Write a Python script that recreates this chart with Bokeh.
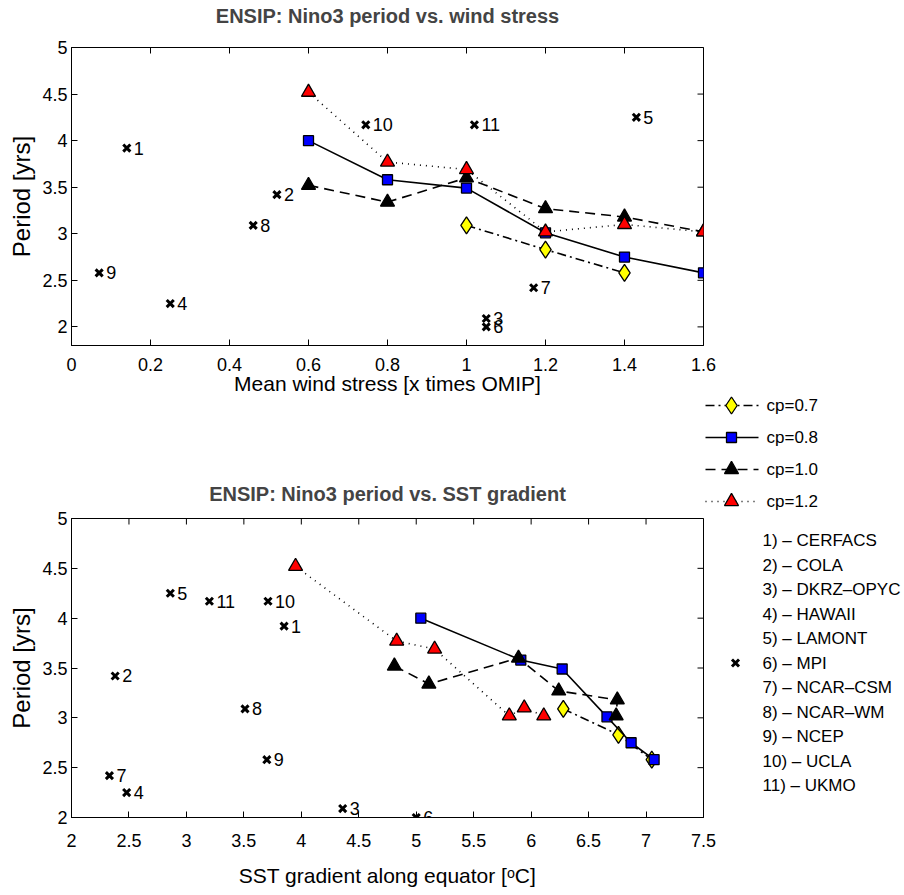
import math
from bokeh.plotting import figure
from bokeh.models import Range1d, FixedTicker
from bokeh.layouts import row, column
from bokeh.embed import file_html
from bokeh.resources import INLINE
from bokeh.core.properties import value

FONT = "Liberation Sans"

# ---------------- data ----------------
wind_levels = [0.6, 0.8, 1.0, 1.2, 1.4, 1.6]

cp07_wind = [1.0, 1.2, 1.4]
cp07_period = [3.09, 2.83, 2.58]
cp07_sst = [6.28, 6.76, 7.05]

cp08_period = [4.00, 3.58, 3.49, 3.01, 2.75, 2.58]
cp08_sst = [5.04, 5.91, 6.27, 6.66, 6.87, 7.07]

cp10_period = [3.52, 3.34, 3.60, 3.27, 3.18, 3.02]
cp10_sst = [4.81, 5.11, 5.89, 6.24, 6.75, 6.74]

cp12_period = [4.52, 3.77, 3.69, 3.02, 3.10, 3.02]
cp12_sst = [3.95, 4.83, 5.16, 5.81, 5.94, 6.11]

model_ids = ["1", "2", "3", "4", "5", "6", "7", "8", "9", "10", "11"]
model_names = ["CERFACS", "COLA", "DKRZ\u2013OPYC", "HAWAII", "LAMONT", "MPI",
               "NCAR\u2013CSM", "NCAR\u2013WM", "NCEP", "UCLA", "UKMO"]
model_period = [3.92, 3.42, 2.09, 2.25, 4.25, 2.00, 2.42, 3.09, 2.58, 4.17, 4.17]
model_wind = [0.14, 0.52, 1.05, 0.25, 1.43, 1.05, 1.17, 0.46, 0.07, 0.745, 1.02]
model_sst = [3.85, 2.38, 4.36, 2.48, 2.86, 5.00, 2.33, 3.51, 3.70, 3.71, 3.20]

legend_labels = ["cp=0.7", "cp=0.8", "cp=1.0", "cp=1.2"]

top_xticks = [0, 0.2, 0.4, 0.6, 0.8, 1.0, 1.2, 1.4, 1.6]
top_xlabels = ["0", "0.2", "0.4", "0.6", "0.8", "1", "1.2", "1.4", "1.6"]
bot_xticks = [2, 2.5, 3, 3.5, 4, 4.5, 5, 5.5, 6, 6.5, 7, 7.5]
bot_xlabels = ["2", "2.5", "3", "3.5", "4", "4.5", "5", "5.5", "6", "6.5", "7", "7.5"]
yticks = [2, 2.5, 3, 3.5, 4, 4.5, 5]
ylabels = ["2", "2.5", "3", "3.5", "4", "4.5", "5"]

# series styles: (fill, marker, size, dash)
styles = [
    ("yellow", "diamond", 17, "9 4 2 4"),
    ("blue", "square", 10, "solid"),
    ("black", "triangle", 14, "10 6"),
    ("red", "triangle", 14, "1 5"),
]


def style_axes(p, xticks, xlabels, xlabel, tick_standoff, label_standoff, title_standoff):
    p.xgrid.visible = False
    p.ygrid.visible = False
    p.outline_line_color = "black"
    p.outline_line_width = 1
    p.title.align = "center"
    p.title.text_font = FONT
    p.title.text_font_size = "20px"
    p.title.text_font_style = "bold"
    p.title.standoff = title_standoff
    p.xaxis.ticker = FixedTicker(ticks=xticks)
    p.xaxis.major_label_overrides = dict(zip(xticks, xlabels))
    p.yaxis.ticker = FixedTicker(ticks=yticks)
    p.yaxis.major_label_overrides = dict(zip(yticks, ylabels))
    p.xaxis.axis_label = xlabel
    p.yaxis.axis_label = "Period [yrs]"
    for ax in (p.xaxis[0], p.yaxis[0]):
        ax.major_tick_in = 6
        ax.major_tick_out = 0
        ax.minor_tick_line_color = None
        ax.axis_line_color = "black"
        ax.major_label_text_font = FONT
        ax.major_label_text_font_size = "18px"
        ax.major_label_text_color = "black"
        ax.axis_label_text_font = FONT
        ax.axis_label_text_font_style = "normal"
        ax.axis_label_text_color = "black"
    p.xaxis.major_label_standoff = tick_standoff
    p.yaxis.major_label_standoff = 4
    p.xaxis.axis_label_text_font_size = "21px"
    p.yaxis.axis_label_text_font_size = "24px"
    p.xaxis.axis_label_standoff = label_standoff
    p.yaxis.axis_label_standoff = 4
    # inward box ticks on the top and right edges (half of each dash is clipped by the frame)
    xr, yr = p.x_range, p.y_range
    p.scatter(xticks, [yr.end] * len(xticks), marker="dash", angle=math.pi / 2, size=12,
              line_color="black", line_width=1)
    p.scatter([xr.end] * len(yticks), yticks, marker="dash", size=12,
              line_color="black", line_width=1)


def add_models(p, xs):
    p.scatter(xs, model_period, marker="x", size=10, line_color="black", line_width=3)
    p.text(xs, model_period, text=model_ids, x_offset=7, text_baseline="middle",
           text_align="left", text_font=value(FONT), text_font_size="18px", text_color="black")


def add_series(p, xs, ys, st):
    fill, marker, size, dash = st
    p.line(xs, ys, line_color="black", line_width=1.6, line_dash=dash)
    p.scatter(xs, ys, marker=marker, size=size, fill_color=fill, line_color="black", line_width=1.3)


# ---------------- top figure (page px: x 0-716, y -24..405; frame 71-703 x 47-345) ----------------
top = figure(width=716, height=429, x_range=Range1d(0, 1.6), y_range=Range1d(1.8, 5),
             output_backend="svg", toolbar_location=None, margin=(-24, 0, 0, 0),
             min_border_left=71, min_border_right=13, min_border_top=71, min_border_bottom=60,
             title="ENSIP: Nino3 period vs. wind stress")
style_axes(top, top_xticks, top_xlabels, "Mean wind stress [x times OMIP]", 12, -2, 41)
add_models(top, model_wind)
add_series(top, cp07_wind, cp07_period, styles[0])
add_series(top, wind_levels, cp08_period, styles[1])
add_series(top, wind_levels, cp10_period, styles[2])
add_series(top, wind_levels, cp12_period, styles[3])

# ---------------- bottom figure (page px: y 405-895; frame 518-817) ----------------
bot = figure(width=716, height=490, x_range=Range1d(2, 7.5), y_range=Range1d(2, 5),
             output_backend="svg", toolbar_location=None,
             min_border_left=71, min_border_right=13, min_border_top=113, min_border_bottom=78,
             title="ENSIP: Nino3 period vs. SST gradient")
style_axes(bot, bot_xticks, bot_xlabels, "SST gradient along equator [\u1d52C]", 16, 14, 27)
add_models(bot, model_sst)
add_series(bot, cp07_sst, cp07_period, styles[0])
add_series(bot, cp08_sst, cp08_period, styles[1])
add_series(bot, cp10_sst, cp10_period, styles[2])
add_series(bot, cp12_sst, cp12_period, styles[3])

# ---------------- legend figure (page pixel coordinates) ----------------
lg = figure(width=201, height=895, x_range=Range1d(703, 904), y_range=Range1d(895, 0),
            output_backend="svg", toolbar_location=None, min_border=0,
            x_axis_location=None, y_axis_location=None, margin=(0, 0, 0, -13))
lg.xgrid.visible = False
lg.ygrid.visible = False
lg.outline_line_color = None
lg.background_fill_alpha = 0
lg.border_fill_alpha = 0

leg_y = [405, 437, 469, 501]
for i, st in enumerate(styles):
    fill, marker, size, dash = st
    lg.line([705, 758], [leg_y[i], leg_y[i]], line_color="black", line_width=1.6, line_dash=dash)
    lg.scatter([731], [leg_y[i]], marker=marker, size=size, fill_color=fill,
               line_color="black", line_width=1.3)
lg.text([766] * 4, leg_y, text=legend_labels, text_baseline="middle", text_align="left",
        text_font=value(FONT), text_font_size="17px", text_color="black")

model_rows = [540 + 24.5 * i for i in range(len(model_names))]
model_text = [f"{i}) \u2013 {n}" for i, n in zip(model_ids, model_names)]
lg.text([762] * len(model_text), model_rows, text=model_text, text_baseline="middle",
        text_align="left", text_font=value(FONT), text_font_size="17px", text_color="black")
lg.scatter([735], [model_rows[5]], marker="x", size=10, line_color="black", line_width=3)

layout = row(column(top, bot), lg)
open("out.html", "w").write(file_html(layout, INLINE))
